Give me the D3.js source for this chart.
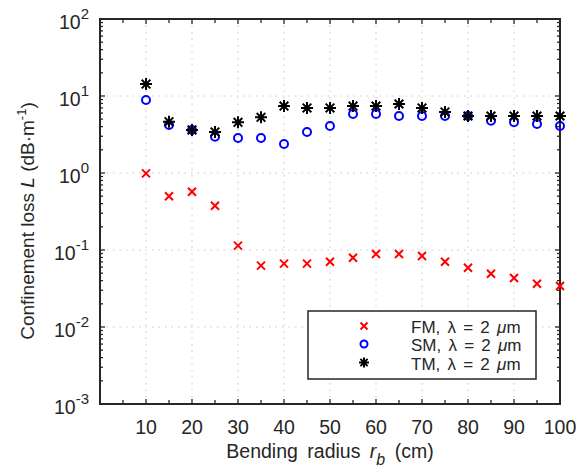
<!DOCTYPE html>
<html><head><meta charset="utf-8">
<script src="https://cdn.jsdelivr.net/npm/d3@7"></script>
<style>
body{margin:0;background:#fff;}
text{font-family:"Liberation Sans",Arial,Helvetica,sans-serif;fill:#262626;}
</style></head>
<body><svg id="c" width="587" height="473"></svg>
<script>
const radii = [10,15,20,25,30,35,40,45,50,55,60,65,70,75,80,85,90,95,100];
const fmLoss = [0.99,0.50,0.57,0.376,0.114,0.0626,0.0665,0.0665,0.0705,0.0794,0.0887,0.0887,0.0836,0.0705,0.0589,0.0492,0.0433,0.0365,0.034];
const smLoss = [8.87,4.2,3.62,2.96,2.85,2.85,2.38,3.41,4.07,5.84,5.84,5.5,5.5,5.5,5.5,4.78,4.55,4.33,4.08];
const tmLoss = [14.3,4.64,3.62,3.41,4.55,5.29,7.41,6.99,6.99,7.41,7.41,7.87,6.99,6.2,5.5,5.5,5.5,5.5,5.5];
const xTicks = [10,20,30,40,50,60,70,80,90,100];
const yExponents = [-3,-2,-1,0,1,2];
const legendLabels = ["FM","SM","TM"];

const svg = d3.select("#c");
const L=100,R=560,T=19,B=404;
const x = d3.scaleLinear().domain([0,100]).range([L,R]);
const y = d3.scaleLog().domain([1e-3,1e2]).range([B,T]);
const axisCol = "#262626";

// grid
const g = svg.append("g");
g.selectAll(".gx").data(xTicks.filter(d=>d<100)).enter().append("line")
  .attr("x1",d=>x(d)).attr("x2",d=>x(d)).attr("y1",T).attr("y2",B)
  .attr("stroke","#c8c8c8").attr("stroke-width",1).attr("stroke-dasharray","1.5,5");
g.selectAll(".gy").data(yExponents.slice(1,-1)).enter().append("line")
  .attr("y1",d=>y(Math.pow(10,d))).attr("y2",d=>y(Math.pow(10,d))).attr("x1",L).attr("x2",R)
  .attr("stroke","#c8c8c8").attr("stroke-width",1).attr("stroke-dasharray","1.5,5");

// ticks
const xMinor = d3.range(5,100,5);
const yMinor = [];
yExponents.slice(0,-1).forEach(e=>{for(let k=2;k<=9;k++) yMinor.push(k*Math.pow(10,e));});
const tk = svg.append("g").attr("stroke",axisCol).attr("stroke-width",1.3);
xMinor.forEach(v=>{
  const len = (v%10===0)?5:4;
  tk.append("line").attr("x1",x(v)).attr("x2",x(v)).attr("y1",B).attr("y2",B-len);
  tk.append("line").attr("x1",x(v)).attr("x2",x(v)).attr("y1",T).attr("y2",T+len);
});
yMinor.forEach(v=>{
  tk.append("line").attr("y1",y(v)).attr("y2",y(v)).attr("x1",L).attr("x2",L+3);
  tk.append("line").attr("y1",y(v)).attr("y2",y(v)).attr("x1",R).attr("x2",R-3);
});
yExponents.forEach(e=>{
  const v=Math.pow(10,e);
  tk.append("line").attr("y1",y(v)).attr("y2",y(v)).attr("x1",L).attr("x2",L+5);
  tk.append("line").attr("y1",y(v)).attr("y2",y(v)).attr("x1",R).attr("x2",R-5);
});

// box
svg.append("rect").attr("x",L).attr("y",T).attr("width",R-L).attr("height",B-T)
  .attr("fill","none").attr("stroke",axisCol).attr("stroke-width",2);

// x tick labels
svg.selectAll(".xl").data(xTicks).enter().append("text")
  .attr("x",d=>x(d)).attr("y",B+30).attr("text-anchor","middle")
  .attr("font-size",19.5).text(d=>d);

// y tick labels
yExponents.forEach(e=>{
  const t = svg.append("text").attr("x",L-11).attr("y",y(Math.pow(10,e))+10)
    .attr("text-anchor","end").attr("font-size",19.5);
  t.append("tspan").text("10");
  t.append("tspan").attr("font-size",15).attr("dy",-10).text(e);
});

// axis titles
const xt = svg.append("text").attr("x",330).attr("y",458).attr("text-anchor","middle")
  .attr("font-size",19.5).style("word-spacing","4px");
xt.append("tspan").text("Bending radius ");
xt.append("tspan").attr("font-style","italic").text("r");
xt.append("tspan").attr("font-style","italic").attr("font-size",16).attr("dy",7).text("b");
xt.append("tspan").attr("dy",-7).text(" (cm)");

const yt = svg.append("text").attr("transform","translate(34,221) rotate(-90)").attr("text-anchor","middle").attr("font-size",19);
yt.append("tspan").text("Confinement loss ");
yt.append("tspan").attr("font-style","italic").text("L");
yt.append("tspan").text(" (dB·m");
yt.append("tspan").attr("font-size",13).attr("dy",-8).text("-1");
yt.append("tspan").attr("dy",8).text(")");

// markers
function drawX(sel,s){sel.append("path").attr("d",`M${-s},${-s}L${s},${s}M${-s},${s}L${s},${-s}`)
  .attr("stroke","#ff0000").attr("stroke-width",2).attr("fill","none");}
function drawO(sel,r){sel.append("circle").attr("r",r).attr("fill","none").attr("stroke","#0000ff").attr("stroke-width",2);}
function drawStar(sel,s){const d=s*0.72;sel.append("path")
  .attr("d",`M${-s},0L${s},0M0,${-s}L0,${s}M${-d},${-d}L${d},${d}M${-d},${d}L${d},${-d}`)
  .attr("stroke","#000").attr("stroke-width",2).attr("fill","none");}

const mk = svg.append("g");
radii.forEach((r,i)=>{
  drawX(mk.append("g").attr("transform",`translate(${x(r)},${y(fmLoss[i])})`),4);
});
radii.forEach((r,i)=>{
  drawO(mk.append("g").attr("transform",`translate(${x(r)},${y(smLoss[i])})`),4);
});
radii.forEach((r,i)=>{
  drawStar(mk.append("g").attr("transform",`translate(${x(r)},${y(tmLoss[i])})`),6);
});

// legend
const lg = svg.append("g");
lg.append("rect").attr("x",308).attr("y",311).attr("width",228).attr("height",68)
  .attr("fill","#fff").attr("stroke",axisCol).attr("stroke-width",1.5);
const rows=[326,344,362.5];
const drawers=[g=>drawX(g,3.5),g=>drawO(g,3.5),g=>drawStar(g,5)];
legendLabels.forEach((lab,i)=>{
  drawers[i](lg.append("g").attr("transform",`translate(364,${rows[i]})`));
  const t = lg.append("text").attr("x",411).attr("y",rows[i]+7).attr("font-size",17)
    .style("word-spacing","2.5px");
  t.append("tspan").text(lab+", λ = 2 ");
  t.append("tspan").attr("font-style","italic").text("μ");
  t.append("tspan").text("m");
});
</script></body></html>
